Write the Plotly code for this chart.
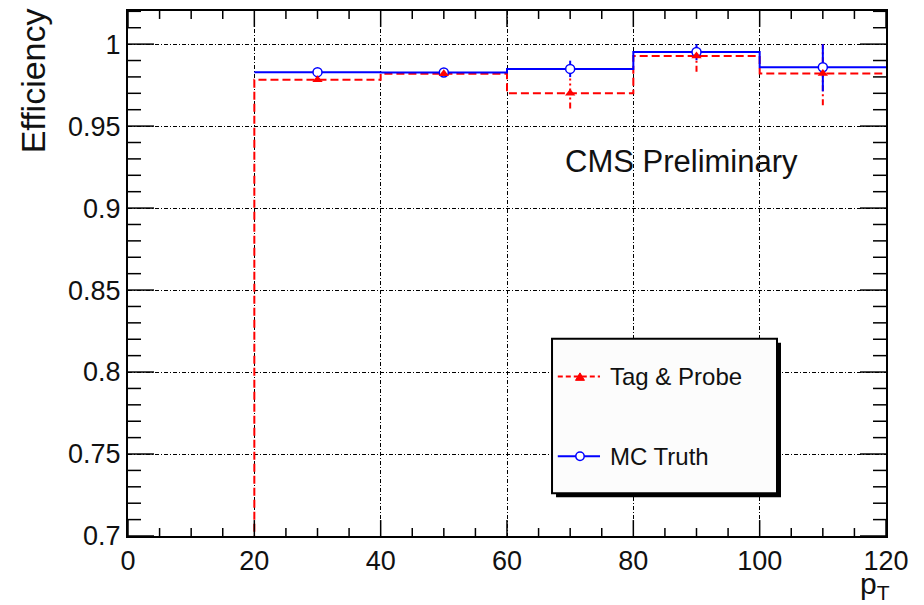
import plotly.graph_objects as go

# Binning in transverse momentum
bin_edges = [20, 40, 60, 80, 100, 120]
bin_centers = [30, 50, 70, 90, 110]

# Tag & Probe efficiency with asymmetric uncertainties
tp_eff = [0.9782, 0.9819, 0.9700, 0.9927, 0.9821]
tp_err_up = [0.0010, 0.0010, 0.0090, 0.0073, 0.0179]
tp_err_down = [0.0010, 0.0010, 0.0093, 0.0095, 0.0194]

# MC truth efficiency with asymmetric uncertainties
mc_eff = [0.9829, 0.9827, 0.9849, 0.9952, 0.9859]
mc_err_up = [0.0010, 0.0010, 0.0050, 0.0048, 0.0141]
mc_err_down = [0.0010, 0.0010, 0.0050, 0.0050, 0.0147]

# Axis ticks
x_ticks = [0, 20, 40, 60, 80, 100, 120]
x_minor = [5, 10, 15, 25, 30, 35, 45, 50, 55, 65, 70, 75,
           85, 90, 95, 105, 110, 115]
y_ticks = [0.7, 0.75, 0.8, 0.85, 0.9, 0.95, 1.0]
y_tick_text = ["0.7", "0.75", "0.8", "0.85", "0.9", "0.95", "1"]
y_minor = [0.71, 0.72, 0.73, 0.74, 0.76, 0.77, 0.78, 0.79, 0.81, 0.82, 0.83, 0.84,
           0.86, 0.87, 0.88, 0.89, 0.91, 0.92, 0.93, 0.94, 0.96, 0.97, 0.98, 0.99,
           1.01, 1.02]

legend_labels = ["Tag & Probe", "MC Truth"]

RED = "#ff0000"
BLUE = "#0000ff"
TEXT = "#111111"
FONT = "Liberation Sans, Arial, Helvetica, sans-serif"

# frame geometry in pixels, used to size ticks and legend glyphs
PLOT_W, PLOT_H = 758, 527


def step_xy(edges, vals, from_zero=False):
    xs = list(edges)
    ys = list(vals) + [vals[-1]]
    if from_zero:
        xs = [edges[0]] + xs
        ys = [0.0] + ys
    return xs, ys


def err_xy(centers, vals, up, down):
    xs, ys = [], []
    for c, v, u, d in zip(centers, vals, up, down):
        xs += [c, c, None]
        ys += [v - d, v + u, None]
    return xs, ys


fig = go.Figure()

# Tag & Probe histogram outline (drops to the baseline on the low edge)
sx, sy = step_xy(bin_edges, tp_eff, from_zero=True)
fig.add_trace(go.Scatter(x=sx, y=sy, mode="lines", line_shape="hv",
                         line=dict(color=RED, width=2, dash="8px,4px"),
                         showlegend=False, hoverinfo="skip"))
ex, ey = err_xy(bin_centers, tp_eff, tp_err_up, tp_err_down)
fig.add_trace(go.Scatter(x=ex, y=ey, mode="lines",
                         line=dict(color=RED, width=2, dash="6px,3px,2px,3px"),
                         showlegend=False, hoverinfo="skip"))

# MC truth histogram outline
sx, sy = step_xy(bin_edges, mc_eff)
fig.add_trace(go.Scatter(x=sx, y=sy, mode="lines", line_shape="hv",
                         line=dict(color=BLUE, width=2),
                         showlegend=False, hoverinfo="skip"))
ex, ey = err_xy(bin_centers, mc_eff, mc_err_up, mc_err_down)
fig.add_trace(go.Scatter(x=ex, y=ey, mode="lines",
                         line=dict(color=BLUE, width=2),
                         showlegend=False, hoverinfo="skip"))

# Markers at bin centres
fig.add_trace(go.Scatter(x=bin_centers, y=mc_eff, mode="markers",
                         marker=dict(symbol="circle", size=9, color="white",
                                     line=dict(color=BLUE, width=1.5)),
                         showlegend=False))
fig.add_trace(go.Scatter(x=bin_centers, y=tp_eff, mode="markers",
                         marker=dict(symbol="triangle-up", size=9, color=RED,
                                     line=dict(width=0)),
                         showlegend=False))

shapes = []

# Inward tick marks on all four sides of the frame
tick_line = dict(color="black", width=1.5)


def x_tick(v, length_px):
    f = length_px / PLOT_H
    shapes.append(dict(type="line", xref="x", yref="paper", layer="above",
                       x0=v, x1=v, y0=0, y1=f, line=tick_line))
    shapes.append(dict(type="line", xref="x", yref="paper", layer="above",
                       x0=v, x1=v, y0=1, y1=1 - f, line=tick_line))


def y_tick(v, length_px):
    f = length_px / PLOT_W
    shapes.append(dict(type="line", xref="paper", yref="y", layer="above",
                       x0=0, x1=f, y0=v, y1=v, line=tick_line))
    shapes.append(dict(type="line", xref="paper", yref="y", layer="above",
                       x0=1, x1=1 - f, y0=v, y1=v, line=tick_line))


for v in x_ticks:
    x_tick(v, 16)
for v in x_minor:
    x_tick(v, 8)
for v in y_ticks:
    y_tick(v, 26)
for v in y_minor:
    y_tick(v, 13)

# Legend box with drop shadow and key glyphs
box = dict(x0=0.5594, x1=0.8562, y0=0.0816, y1=0.3757)
sh_dx, sh_dy = 4 / PLOT_W, 4 / PLOT_H
key_rows = [0.3036, 0.1518]
key_x0, key_x1, key_mid = 0.567, 0.6227, 0.5963
text_x = 0.633
tri_w, tri_h = 4.5 / PLOT_W, 7.5 / PLOT_H
circ_rx, circ_ry = 4.2 / PLOT_W, 4.2 / PLOT_H

ty = key_rows[0]
tri_path = (f"M{key_mid - tri_w},{ty - tri_h / 2} L{key_mid + tri_w},{ty - tri_h / 2} "
            f"L{key_mid},{ty + tri_h / 2} Z")

shapes += [
    dict(type="rect", xref="paper", yref="paper", layer="above",
         x0=box["x0"] + sh_dx, x1=box["x1"] + sh_dx,
         y0=box["y0"] - sh_dy, y1=box["y1"] - sh_dy,
         fillcolor="black", line=dict(width=0)),
    dict(type="rect", xref="paper", yref="paper", layer="above",
         fillcolor="#fcfcfc", line=dict(color="black", width=2), **box),
    dict(type="line", xref="paper", yref="paper", layer="above",
         x0=key_x0, x1=key_x1, y0=key_rows[0], y1=key_rows[0],
         line=dict(color=RED, width=2, dash="5px,3px")),
    dict(type="path", xref="paper", yref="paper", layer="above", path=tri_path,
         fillcolor=RED, line=dict(color=RED, width=1)),
    dict(type="line", xref="paper", yref="paper", layer="above",
         x0=key_x0, x1=key_x1, y0=key_rows[1], y1=key_rows[1],
         line=dict(color=BLUE, width=2)),
    dict(type="circle", xref="paper", yref="paper", layer="above",
         x0=key_mid - circ_rx, x1=key_mid + circ_rx,
         y0=key_rows[1] - circ_ry, y1=key_rows[1] + circ_ry,
         fillcolor="white", line=dict(color=BLUE, width=1.5)),
]

grid_dash = "4px,2px,1px,2px"
fig.update_layout(
    width=924, height=605,
    margin=dict(l=128, r=38, t=9, b=69),
    paper_bgcolor="white", plot_bgcolor="white",
    font=dict(family=FONT, color=TEXT),
    xaxis=dict(range=[0, 120], tickvals=x_ticks, ticks="",
               mirror=True, showline=True, linecolor="black", linewidth=2,
               showgrid=True, gridcolor="black", gridwidth=1, griddash=grid_dash,
               zeroline=False, tickfont=dict(size=27, family=FONT, color=TEXT)),
    yaxis=dict(range=[0.7, 1.0202], tickvals=y_ticks, ticktext=y_tick_text,
               ticks="", mirror=True, showline=True, linecolor="black", linewidth=2,
               showgrid=True, gridcolor="black", gridwidth=1, griddash=grid_dash,
               zeroline=False, tickfont=dict(size=27, family=FONT, color=TEXT)),
    showlegend=False,
    shapes=shapes,
    annotations=[
        dict(text="CMS Preliminary", xref="paper", yref="paper", x=0.7296, y=0.7135,
             showarrow=False, xanchor="center", yanchor="middle",
             font=dict(size=31, family=FONT, color=TEXT)),
        dict(text="Efficiency", xref="paper", yref="paper", x=-0.1253, y=0.866,
             textangle=-90, showarrow=False, xanchor="center", yanchor="middle",
             font=dict(size=34, family=FONT, color=TEXT)),
        dict(text="p<sub>T</sub>", xref="paper", yref="paper", x=1.008, y=-0.055,
             showarrow=False, xanchor="right", yanchor="top",
             font=dict(size=30, family=FONT, color=TEXT)),
        dict(text=legend_labels[0], xref="paper", yref="paper", x=text_x, y=key_rows[0],
             showarrow=False, xanchor="left", yanchor="middle",
             font=dict(size=24, family=FONT, color=TEXT)),
        dict(text=legend_labels[1], xref="paper", yref="paper", x=text_x, y=key_rows[1],
             showarrow=False, xanchor="left", yanchor="middle",
             font=dict(size=24, family=FONT, color=TEXT)),
    ],
)

fig.write_html("out.html")
